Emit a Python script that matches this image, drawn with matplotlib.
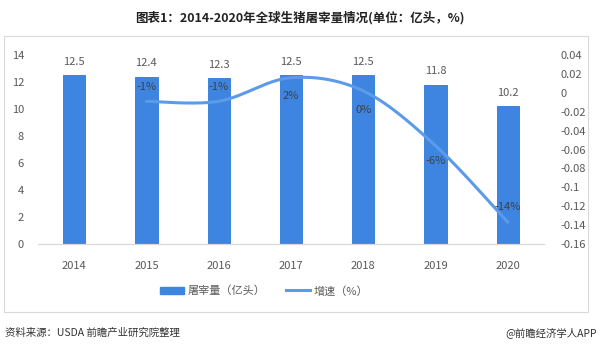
"""
 全球生猪屠宰量柱线图
"""
import matplotlib
matplotlib.use('Agg')
import matplotlib.pyplot as plt
import numpy as np
from matplotlib.patches import Rectangle
from matplotlib.ticker import FuncFormatter
from matplotlib.lines import Line2D

plt.rcParams['font.family'] = ['Noto Sans CJK SC', 'DejaVu Sans']

# 数据
years = ['2014', '2015', '2016', '2017', '2018', '2019', '2020']
slaughter = [12.5, 12.4, 12.3, 12.5, 12.5, 11.8, 10.2]   # 亿头
growth = [-0.009, -0.009, 0.016, 0.002, -0.056, -0.137]  # 2015-2020
growth_labels = ['-1%', '-1%', '2%', '0%', '-6%', '-14%']
label_offsets = [(0, 10), (0, 10), (0, -13), (0, -14), (0, -11), (0, 11)]  # 标签偏移(pt)

bar_color = '#3d85e0'
line_color = '#5b9bea'
text_color = '#595959'


def fmt_right(v, p):
    v = round(v, 2) + 0.0
    return '0' if abs(v) < 1e-9 else f'{v:g}'


fig = plt.figure(figsize=(6, 3.51), dpi=100)
ax = fig.add_axes([38/600, 1-244/351, 506/600, 189/351])
ax2 = ax.twinx()

x = np.arange(len(years))
ax.bar(x, slaughter, width=0.31, color=bar_color, edgecolor='#2f78d6', linewidth=0.6, zorder=2)
for xi, v in zip(x, slaughter):
    ax.annotate(f'{v:.1f}', (xi, v), xytext=(0, 6), textcoords='offset points',
                ha='center', va='bottom', fontsize=8, color=text_color)

ax.set_xlim(-0.5, 6.5)
ax.set_ylim(0, 14)
ax.set_yticks(np.arange(0, 15, 2))
ax.set_xticks(x)
ax.set_xticklabels(years)
ax2.set_ylim(-0.16, 0.04)
ax2.set_yticks(np.arange(-0.16, 0.041, 0.02))
ax2.yaxis.set_major_formatter(FuncFormatter(fmt_right))

for a in (ax, ax2):
    for s in ('left', 'right', 'top'):
        a.spines[s].set_visible(False)
    a.spines['bottom'].set_color('#d9d9d9')
    a.tick_params(length=0, labelsize=8, colors=text_color)
ax.tick_params(axis='x', pad=12)
ax.tick_params(axis='y', pad=10)
ax2.tick_params(axis='y', pad=12)

# 平滑曲线 (像素空间内的Bezier, 类似Excel平滑线)
fig.canvas.draw()
gx = x[1:]
pts = ax2.transData.transform(np.column_stack([gx, growth]))
curve = []
n = len(pts)
for i in range(n - 1):
    p0 = pts[max(i - 1, 0)]
    p1 = pts[i]
    p2 = pts[i + 1]
    p3 = pts[min(i + 2, n - 1)]
    c1 = p1 + (p2 - p0) / 6
    c2 = p2 - (p3 - p1) / 6
    tt = np.linspace(0, 1, 30)[:, None]
    seg = ((1-tt)**3)*p1 + 3*((1-tt)**2)*tt*c1 + 3*(1-tt)*tt**2*c2 + tt**3*p2
    curve.append(seg)
curve = np.vstack(curve)
curve_data = ax2.transData.inverted().transform(curve)
ax2.plot(curve_data[:, 0], curve_data[:, 1], color=line_color, lw=2.2,
         solid_capstyle='round', zorder=3)
for xi, g, lab, off in zip(gx, growth, growth_labels, label_offsets):
    ax2.annotate(lab, (xi, g), xytext=off, textcoords='offset points',
                 ha='center', va='center', fontsize=8, color='#404040')

# 图例
handles = [Rectangle((0, 0), 1, 1, color=bar_color),
           Line2D([0], [0], color=line_color, lw=2.2)]
fig.legend(handles, ['屠宰量（亿头）', '增速（%）'], loc='center',
           bbox_to_anchor=(0.44, 1-291/351), ncol=2, frameon=False, fontsize=8,
           labelcolor=text_color, handlelength=2.2, columnspacing=1.8, handletextpad=0.3)

# 外框
fig.patches.append(Rectangle((4/600, 1-312/351), 584/600, 276/351, transform=fig.transFigure,
                             fill=False, edgecolor='#d9d9d9', lw=0.8))

fig.text(0.5, 1-18/351, '图表1：2014-2020年全球生猪屠宰量情况(单位：亿头，%)',
         ha='center', va='center', fontsize=9, fontweight='bold', color='#222222')
fig.text(5/600, 1-333/351, '资料来源：USDA 前瞻产业研究院整理', ha='left', va='center',
         fontsize=7.5, color='#333333')
fig.text(597/600, 1-333/351, '@前瞻经济学人APP', ha='right', va='center',
         fontsize=7.5, color='#333333')

plt.savefig('out.png', dpi=100)
plt.close()
